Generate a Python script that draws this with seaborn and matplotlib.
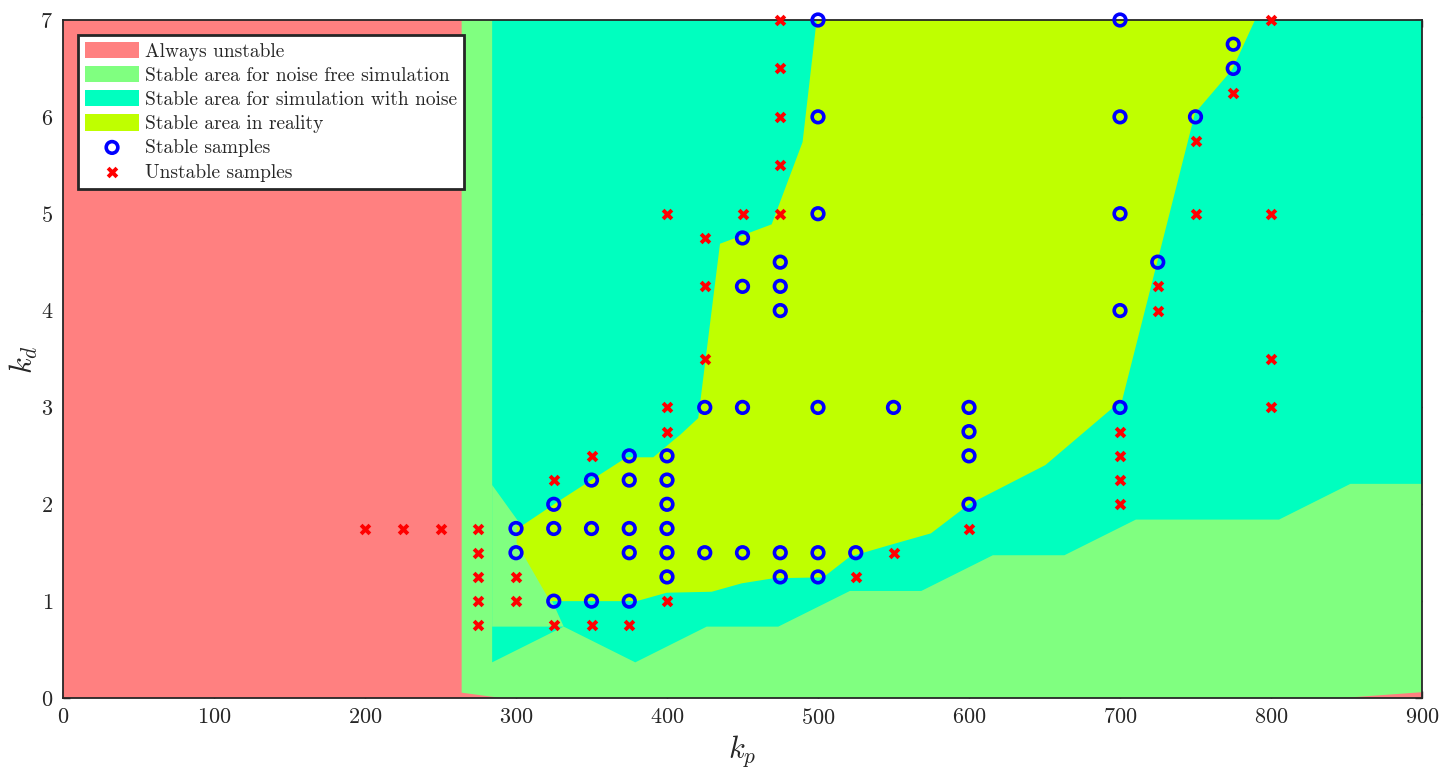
import numpy as np
import pandas as pd
import matplotlib
matplotlib.use("Agg")
import matplotlib.pyplot as plt
import seaborn as sns

# ---------------- data ----------------
# Region boundaries (kp, kd)
unstable_kp = [0, 900, 900, 0]
unstable_kd = [0, 0, 7, 7]

noise_free_kp = [264, 264, 900, 900, 847, 290.5]
noise_free_kd = [0.055, 7.0, 7.0, 0.06, 0.0, 0.0]

noise_kp = [284.2, 900, 900, 852.6, 805.3, 710.5, 663.2, 615.8, 568.4, 521.1,
            473.7, 426.3, 379.0, 331.6, 284.2]
noise_kd = [7.0, 7.0, 2.211, 2.211, 1.842, 1.842, 1.474, 1.474, 1.105, 1.105,
            0.737, 0.737, 0.368, 0.737, 0.368]

# pocket of the noise-free region inside the noisy-simulation region
pocket_kp = [284.2, 331.6, 322.5, 310.0, 303.7, 284.2]
pocket_kd = [0.737, 0.737, 1.05, 1.40, 1.776, 2.199]

reality_kp = [322.5, 300.4, 300.4, 303.7, 329.0, 373.3, 390.9, 404.2, 408.6, 420.7,
              435.1, 469.3, 489.8, 499.1, 789.4, 774.4, 749.7, 701.5, 650.6, 600.0,
              574.8, 547.7, 521.2, 503.5, 470.4, 449.5, 429.6, 399.8, 379.9]
reality_kd = [1.0, 1.60, 1.78, 1.776, 2.04, 2.485, 2.485, 2.66, 2.715, 2.89,
              4.69, 4.89, 5.74, 7.0, 7.0, 6.49, 6.04, 3.08, 2.405, 2.0,
              1.70, 1.58, 1.46, 1.246, 1.236, 1.184, 1.097, 1.087, 1.0]

stable_kp = [300, 300, 325, 325, 325, 350, 350, 350, 375, 375, 375, 375, 375,
             400, 400, 400, 400, 400, 400, 425, 425, 450, 450, 450, 450,
             475, 475, 475, 475, 475, 500, 500, 500, 500, 500, 500, 525, 550,
             600, 600, 600, 600, 700, 700, 700, 700, 700, 725, 750, 775, 775]
stable_kd = [1.75, 1.5, 2.0, 1.75, 1.0, 2.25, 1.75, 1.0, 2.5, 2.25, 1.75, 1.5, 1.0,
             2.5, 2.25, 2.0, 1.75, 1.5, 1.25, 3.0, 1.5, 4.75, 4.25, 3.0, 1.5,
             4.5, 4.25, 4.0, 1.5, 1.25, 7.0, 6.0, 5.0, 3.0, 1.5, 1.25, 1.5, 3.0,
             3.0, 2.75, 2.5, 2.0, 7.0, 6.0, 5.0, 4.0, 3.0, 4.5, 6.0, 6.75, 6.5]

unstable_s_kp = [200, 225, 250, 275, 275, 275, 275, 275, 300, 300, 325, 325,
                 350, 350, 375, 400, 400, 400, 400, 425, 425, 425, 450,
                 475, 475, 475, 475, 475, 525, 550, 600, 700, 700, 700, 700,
                 725, 725, 750, 750, 775, 800, 800, 800, 800]
unstable_s_kd = [1.75, 1.75, 1.75, 1.75, 1.5, 1.25, 1.0, 0.75, 1.25, 1.0, 2.25, 0.75,
                 2.5, 0.75, 0.75, 5.0, 3.0, 2.75, 1.0, 4.75, 4.25, 3.5, 5.0,
                 7.0, 6.5, 6.0, 5.5, 5.0, 1.25, 1.5, 1.75, 2.75, 2.5, 2.25, 2.0,
                 4.25, 4.0, 5.75, 5.0, 6.25, 7.0, 5.0, 3.5, 3.0]

x_ticks = [0, 100, 200, 300, 400, 500, 600, 700, 800, 900]
y_ticks = [0, 1, 2, 3, 4, 5, 6, 7]

labels = ["Always unstable", "Stable area for noise free simulation",
          "Stable area for simulation with noise", "Stable area in reality",
          "Stable samples", "Unstable samples"]

# ---------------- style ----------------
sns.set_theme(style="ticks")
plt.rcParams["font.family"] = ["cmr10", "DejaVu Serif"]
plt.rcParams["mathtext.fontset"] = "cm"
plt.rcParams["axes.formatter.use_mathtext"] = True
plt.rcParams["axes.unicode_minus"] = False

C_RED = "#FF8080"
C_GREEN = "#80FF80"
C_CYAN = "#00FFBF"
C_YELLOW = "#BFFF00"

fig = plt.figure(figsize=(14.56, 7.75), dpi=100)
ax = fig.add_axes([63 / 1456, 1 - 698 / 775, 1359 / 1456, 678 / 775])

ax.fill(unstable_kp, unstable_kd, color=C_RED, lw=0, label=labels[0], zorder=1)
ax.fill(noise_free_kp, noise_free_kd, color=C_GREEN, lw=0, label=labels[1], zorder=2)
ax.fill(noise_kp, noise_kd, color=C_CYAN, lw=0, label=labels[2], zorder=3)
ax.fill(pocket_kp, pocket_kd, color=C_GREEN, lw=0, zorder=4)
ax.fill(reality_kp, reality_kd, color=C_YELLOW, lw=0, label=labels[3], zorder=5)

df_s = pd.DataFrame({"kp": stable_kp, "kd": stable_kd})
df_u = pd.DataFrame({"kp": unstable_s_kp, "kd": unstable_s_kd})

sns.scatterplot(data=df_s, x="kp", y="kd", ax=ax, marker="o", s=70,
                facecolors="none", edgecolor="#0000FF", linewidth=2.6,
                label=labels[4], zorder=12, clip_on=False)
sns.scatterplot(data=df_u, x="kp", y="kd", ax=ax, marker="x", s=40,
                color="#FF0000", linewidth=2.8, label=labels[5], zorder=13,
                clip_on=False)

ax.set_xlim(0, 900)
ax.set_ylim(0, 7)
ax.set_xticks(x_ticks)
ax.set_yticks(y_ticks)
ax.tick_params(direction="in", top=True, right=True, length=5, width=1,
               labelsize=16, color="#262626", labelcolor="#262626", pad=7)
for sp in ax.spines.values():
    sp.set_color("#262626")
    sp.set_linewidth(1.3)
    sp.set_zorder(10)
ax.set_xlabel("$k_p$", fontsize=22, color="#262626", labelpad=4)
ax.set_ylabel("$k_d$", fontsize=22, color="#262626", labelpad=0)

leg = ax.legend(loc="upper left", bbox_to_anchor=(15 / 1359, 1 - 15 / 678),
                borderaxespad=0, fontsize=14, frameon=True, fancybox=False,
                framealpha=1, edgecolor="#262626", handlelength=2.8,
                handleheight=0.9, labelspacing=0.28, borderpad=0.35,
                handletextpad=0.3, scatterpoints=1)
leg.get_frame().set_linewidth(2)
leg.set_zorder(20)

fig.savefig("out.png", dpi=100)
